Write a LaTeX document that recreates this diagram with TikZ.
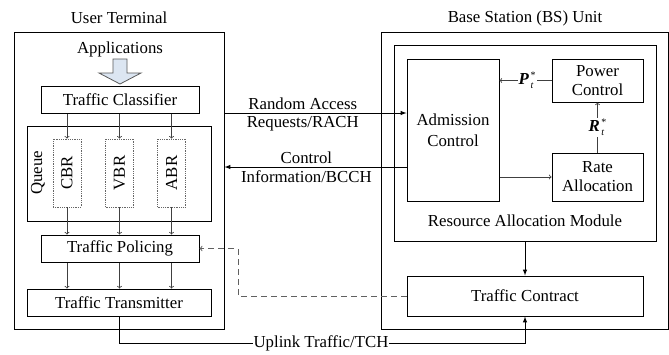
\documentclass[tikz,border=0pt]{standalone}
\usepackage{fontspec}
\setmainfont{Liberation Serif}
\usetikzlibrary{shapes,arrows,positioning,calc}
\definecolor{appblue}{RGB}{220,230,242}
\newcommand{\optsym}[1]{\textbf{\textit{#1}}\kern1.5pt\raisebox{-4pt}{\fontsize{10}{10}\selectfont\shortstack[l]{*\\[1.5pt]\textit{t}}}}

\begin{document}
\begin{tikzpicture}[
    x=1pt, y=-1pt,
    line width=1pt,
    font=\fontsize{16.8}{19}\selectfont,
    box/.style={rectangle, draw, inner sep=0pt, align=center},
    queuebox/.style={rectangle, draw=gray!80!black, densely dotted, line width=0.8pt, inner sep=0pt},
    arrow/.style={->, draw=black!75, line width=0.8pt},
    fillarrow/.style={-latex},
    dasharrow/.style={->, draw=gray!75!black, dash pattern=on 6pt off 4pt},
    tag/.style={inner sep=1pt}
]
\useasboundingbox (0,0) rectangle (669,354);
% User terminal (left)
\node[box, minimum width=210pt, minimum height=297pt] (ut) at (119,180.5) {};
\node (uttitle) at (119,18) {User Terminal};
\node (apps) at (120,49) {Applications};
\node[box, minimum width=158pt, minimum height=27pt] (cls) at (120,99.5) {Traffic Classifier};
\node[box, minimum width=184pt, minimum height=95pt] (queue) at (119,173.5) {};
\node (queuetag) at (38,173) {\rotatebox{90}{Queue}};
\node[queuebox, minimum width=28pt, minimum height=68pt] (cbr) at (67,173) {\rotatebox{90}{CBR}};
\node[queuebox, minimum width=28pt, minimum height=68pt] (vbr) at (119.5,173) {\rotatebox{90}{VBR}};
\node[queuebox, minimum width=28pt, minimum height=68pt] (abr) at (171.5,173) {\rotatebox{90}{ABR}};
\node[box, minimum width=158pt, minimum height=27pt] (pol) at (120,248.5) {Traffic Policing};
\node[box, minimum width=184pt, minimum height=27pt] (tx) at (119,302.5) {Traffic Transmitter};
% Base station (right)
\node[box, minimum width=287pt, minimum height=297pt] (bs) at (524.5,180.5) {};
\node (bstitle) at (525,18) {Base Station (BS) Unit};
\node[box, minimum width=262pt, minimum height=196pt] (ram) at (525,143) {};
\node (ramtag) at (525,221) {Resource Allocation Module};
\node[box, minimum width=92pt, minimum height=142pt] (adm) at (453,130) {Admission\\[2pt]Control};
\node[box, minimum width=91pt, minimum height=43pt] (pc) at (597.5,80.5) {Power\\Control};
\node[box, minimum width=91pt, minimum height=48pt] (ra) at (597.5,177) {Rate\\Allocation};
\node[box, minimum width=236pt, minimum height=40pt] (tc) at (525,296) {Traffic Contract};
% Applications arrow
\draw[draw=gray!70!black, fill=appblue, line width=0.8pt]
    (113,59) -- (127,59) -- (127,73) -- (141,73) -- (120,84) -- (99,73) -- (113,73) -- cycle;
% Arrows inside the terminal
\foreach \q in {cbr,vbr,abr} {
  \draw[arrow] (cls.south -| \q) -- (\q.north);
  \draw[arrow] (\q.south) -- (pol.north -| \q);
  \draw[arrow] (pol.south -| \q) -- (tx.north -| \q);
}
% Channels between terminal and BS
\coordinate (rach) at (0,113);
\coordinate (bcch) at (0,167);
\draw[fillarrow] (ut.east |- rach) -- node[pos=0.43, above]{Random Access}
    node[pos=0.43, below]{Requests/RACH} (adm.west |- rach);
\draw[fillarrow] (adm.west |- bcch) -- node[pos=0.55, above]{Control}
    node[pos=0.55, below]{Information/BCCH} (ut.east |- bcch);
% Resource allocation
\draw[arrow] (pc.west) -- node[tag, fill=white, pos=0.47]{\optsym{P}} (adm.east |- pc.west);
\draw[arrow] (ra.north) -- node[tag, fill=white]{\optsym{R}} (pc.south);
\draw[arrow] (adm.east |- ra.west) -- (ra.west);
\draw[fillarrow] (ram.south) -- (tc.north);
% Uplink and contract feedback
\coordinate (ulk) at (119,343);
\draw[fillarrow] (tx.south) -- (ulk) -| (tc.south);
\node[tag, fill=white] (uplink) at (321,343) {Uplink Traffic/TCH};
\coordinate (dk) at (238,296);
\draw[dasharrow] (tc.west) -- (dk) |- (pol.east);
\end{tikzpicture}
\end{document}
